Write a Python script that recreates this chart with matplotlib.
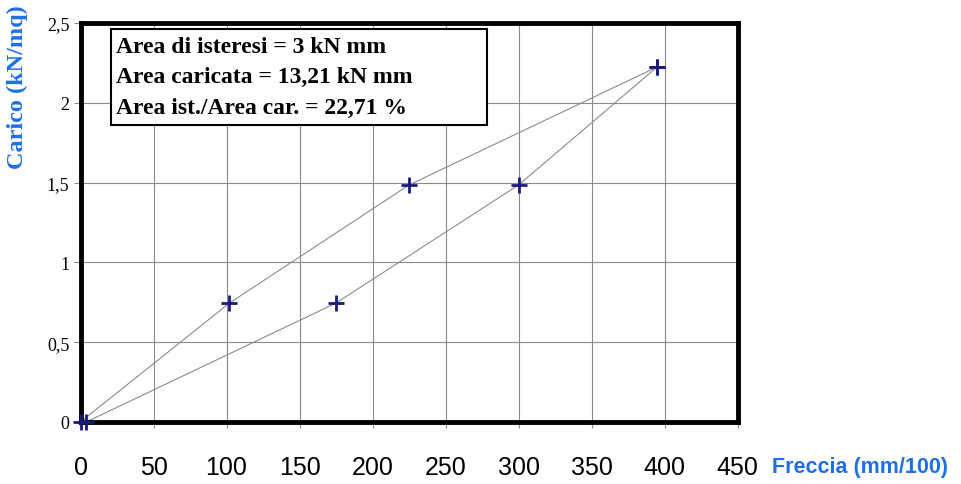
import numpy as np
import matplotlib.pyplot as plt
from matplotlib.patches import Rectangle

# Loading branch (Freccia in mm/100, Carico in kN/mq)
freccia_carico = [0, 102, 225, 395]
carico_carico = [0, 0.745, 1.485, 2.225]
# Unloading branch
freccia_scarico = [395, 300, 175, 4]
carico_scarico = [2.225, 1.485, 0.745, 0]

x_ticks = [0, 50, 100, 150, 200, 250, 300, 350, 400, 450]
y_ticks = [0, 0.5, 1, 1.5, 2, 2.5]
y_tick_labels = ['0', '0,5', '1', '1,5', '2', '2,5']

note_lines = ['Area di isteresi = 3 kN mm',
              'Area caricata = 13,21 kN mm',
              'Area ist./Area car. = 22,71 %']

blue = '#1f6fe6'
serif = ['Liberation Serif', 'DejaVu Serif']
sans = ['Liberation Sans', 'DejaVu Sans']

fig = plt.figure(figsize=(9.62, 4.85), dpi=100)
ax = fig.add_axes([0.0837, 0.128, 0.683, 0.8225])

ax.plot(freccia_carico, carico_carico, color='#8c8c8c', linewidth=0.8)
ax.plot(freccia_scarico, carico_scarico, color='#8c8c8c', linewidth=0.8)
ax.plot(freccia_carico + freccia_scarico, carico_carico + carico_scarico,
        linestyle='none', marker='+', markersize=11, markeredgewidth=2,
        color='#1a1a7a', clip_on=False, zorder=5)

ax.set_xlim(0, 450)
ax.set_ylim(0, 2.5)
ax.set_xticks(x_ticks)
ax.set_yticks(y_ticks)
ax.set_yticklabels(y_tick_labels)
ax.grid(True, color='#8a8a8a', linewidth=0.8)
ax.set_axisbelow(True)

for side in ['left', 'bottom', 'right', 'top']:
    ax.spines[side].set_linewidth(3.5)
    ax.spines[side].set_color('black')

ax.tick_params(axis='x', length=4, width=0.8, color='#8a8a8a', pad=20,
               labelsize=18)
ax.tick_params(axis='y', length=5, width=0.8, color='#8a8a8a', pad=3,
               labelsize=13)
for lab in ax.get_xticklabels():
    lab.set_family(sans)
for lab in ax.get_yticklabels():
    lab.set_family(serif)

# Summary box with the hysteresis areas
ax.add_patch(Rectangle((0.0464, 0.7445), 0.5723, 0.2405, transform=ax.transAxes,
                       facecolor='white', edgecolor='black', linewidth=1.5,
                       zorder=4))
for i, line in enumerate(note_lines):
    ax.text(0.054, 0.9275 - i * 0.0765, line, transform=ax.transAxes,
            ha='left', va='baseline', fontsize=17, fontweight='bold',
            family=serif, zorder=6)

fig.text(0.018, 0.82, 'Carico (kN/mq)', rotation=90, ha='center', va='center',
         fontsize=17.5, fontweight='bold', color=blue, family=serif)
fig.text(0.803, 0.037, 'Freccia (mm/100)', ha='left', va='center',
         fontsize=15.5, fontweight='bold', color=blue, family=sans)

fig.savefig('out.png', dpi=100)
